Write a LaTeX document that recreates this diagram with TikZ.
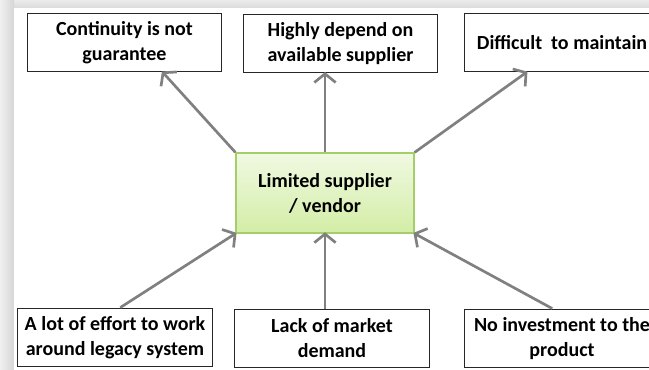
\documentclass[tikz,border=0pt]{standalone}
\usepackage{fontspec}
\setmainfont{Carlito}
\usetikzlibrary{arrows.meta}
\definecolor{coretop}{HTML}{F0F9E2}
\definecolor{corebot}{HTML}{D3EDA6}
\definecolor{coreline}{HTML}{A3CE6A}

\begin{document}
\begin{tikzpicture}[x=0.75pt,y=-0.75pt,
    every node/.style={font=\bfseries\fontsize{15}{18.75}\selectfont,align=center},
    box/.style={draw=black!85,line width=0.9pt,fill=white,minimum width=146pt,minimum height=44pt,inner sep=2pt},
    core/.style={draw=coreline,line width=0.9pt,top color=coretop,bottom color=corebot,minimum width=133.5pt,minimum height=60pt},
    link/.style={draw=black!50,line width=2pt,-{Straight Barb[length=6.5pt,width=16pt,line width=2pt]},shorten >=-1pt}]
      \useasboundingbox (0,0) rectangle (649,370);
      \clip (0,0) rectangle (649,370);
      % page shadow
      \fill[black!12] (0,0) rectangle (649,370);
      \shade[top color=black!8,bottom color=black!14] (0,0) rectangle (649,8);
      \shade[left color=black!6,right color=black!16] (0,0) rectangle (14,370);
      \fill[white] (14,8) rectangle (649,370);
      % centre
      \node[core] (vendor) at (325,193) {Limited supplier\\/ vendor};
      % effects
      \node[box] (cont) at (124.5,42.5) {Continuity is not\\guarantee};
      \node[box] (depend) at (340.5,43.5) {Highly depend on\\available supplier};
      \node[box] (maint) at (562,42.5) {Difficult \ to maintain};
      % causes
      \node[box] (effort) at (115,337.5) {A lot of effort to work\\around legacy system};
      \node[box] (demand) at (332,338.5) {Lack of market\\demand};
      \node[box] (invest) at (562,338.5) {No investment to the\\product};
      % arrows
      \draw[link] (vendor.north west) -- (cont.-38);
      \draw[link] (vendor.north) -- (vendor.north |- depend.south);
      \draw[link] (vendor.north east) -- (maint.220);
      \draw[link] (effort.80) -- (vendor.south west);
      \draw[link] (vendor.south |- demand.north) -- (vendor.south);
      \draw[link] (invest.108) -- (vendor.south east);
    \end{tikzpicture}
\end{document}
